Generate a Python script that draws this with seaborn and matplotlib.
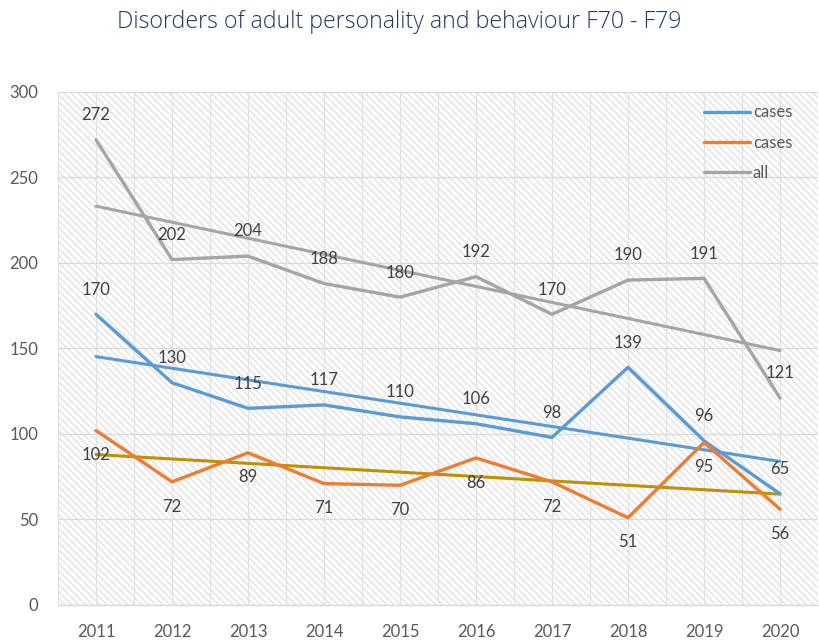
import numpy as np
import pandas as pd
import matplotlib
matplotlib.use("Agg")
import matplotlib.pyplot as plt
from matplotlib.lines import Line2D
from matplotlib.collections import LineCollection
import seaborn as sns

years = [2011, 2012, 2013, 2014, 2015, 2016, 2017, 2018, 2019, 2020]
cases_blue = [170, 130, 115, 117, 110, 106, 98, 139, 96, 65]
cases_orange = [102, 72, 89, 71, 70, 86, 72, 51, 95, 56]
all_cases = [272, 202, 204, 188, 180, 192, 170, 190, 191, 121]
series_names = ["cases", "cases ", "all"]
legend_labels = ["cases", "cases", "all"]
title = "Disorders of adult personality and behaviour F70 - F79"

BLUE = "#5B9BD5"
ORANGE = "#ED7D31"
GRAY = "#A5A5A5"
OLIVE = "#BF9000"
TXT = "#595959"

sns.set_theme(style="white")
plt.rcParams["font.family"] = ["Lato", "DejaVu Sans"]

df = pd.DataFrame({
    "year": years * 3,
    "value": cases_blue + cases_orange + all_cases,
    "series": [series_names[0]] * 10 + [series_names[1]] * 10 + [series_names[2]] * 10,
})

W_PX, H_PX = 819, 640
fig = plt.figure(figsize=(W_PX / 100, H_PX / 100), dpi=100)
pos = [0.0708, 0.0547, 0.928, 0.8016]
ax = fig.add_axes(pos)

# diagonal hatch background (decoration), spacing ~7 px
aw, ah = pos[2] * W_PX, pos[3] * H_PX
segs = []
for c in np.arange(-ah, aw + 7, 7.0):
    segs.append([(c / aw, 1.0), ((c + ah) / aw, 0.0)])
lc = LineCollection(segs, colors="#E4E4E4", linewidths=1.1, transform=ax.transAxes,
                    zorder=0.1, clip_on=True)
ax.add_collection(lc, autolim=False)

palette = {series_names[0]: BLUE, series_names[1]: ORANGE, series_names[2]: GRAY}
sns.lineplot(data=df, x="year", y="value", hue="series", palette=palette,
             linewidth=2.4, ax=ax, legend=False, zorder=3)

for vals, col in [(all_cases, GRAY), (cases_blue, BLUE), (cases_orange, OLIVE)]:
    sns.regplot(x=np.array(years), y=np.array(vals), scatter=False, ci=None, ax=ax,
                line_kws=dict(color=col, linewidth=2.2, zorder=2.5), truncate=True)

# data labels
for x, v in zip(years, all_cases):
    ax.annotate(str(v), (x, v), xytext=(0, 12), textcoords="offset points",
                ha="center", va="bottom", fontsize=12, color="#404040", zorder=5)
for x, v in zip(years, cases_blue):
    ax.annotate(str(v), (x, v), xytext=(0, 12), textcoords="offset points",
                ha="center", va="bottom", fontsize=12, color="#404040", zorder=5)
for x, v in zip(years, cases_orange):
    ax.annotate(str(v), (x, v), xytext=(0, -12), textcoords="offset points",
                ha="center", va="top", fontsize=12, color="#404040", zorder=5)

ax.set_xlim(2010.5, 2020.5)
ax.set_ylim(0, 300)
ax.set_xticks(years)
ax.set_xticklabels([str(y) for y in years])
ax.set_yticks(range(0, 301, 50))
ax.set_xticks(np.arange(2010.5, 2021, 1.0), minor=True)
ax.set_axisbelow(True)
ax.grid(axis="y", which="major", color="#DADADA", linewidth=0.9, zorder=0.5)
ax.grid(axis="x", which="both", color="#E2E2E2", linewidth=0.9, zorder=0.5)
ax.tick_params(axis="both", which="both", length=0, labelsize=12, labelcolor=TXT)
ax.tick_params(axis="x", pad=14)
ax.tick_params(axis="y", pad=14)
ax.set_xlabel("")
ax.set_ylabel("")
for s in ["top", "right", "left"]:
    ax.spines[s].set_visible(False)
ax.spines["bottom"].set_color("#D9D9D9")
ax.spines["bottom"].set_linewidth(1.0)

handles = [Line2D([], [], color=BLUE, lw=2.4), Line2D([], [], color=ORANGE, lw=2.4),
           Line2D([], [], color=GRAY, lw=2.4)]
leg = ax.legend(handles, legend_labels, loc="upper left",
                bbox_to_anchor=(0.83, 1.005), frameon=False, fontsize=12,
                handlelength=2.8, handletextpad=0.15, labelspacing=0.85, labelcolor=TXT)

fig.text(0.488, 0.965, title, ha="center", va="center", fontsize=16.7,
         color="#1F3864", family=["Open Sans", "DejaVu Sans"], fontweight=300)

fig.savefig("out.png", dpi=100)
